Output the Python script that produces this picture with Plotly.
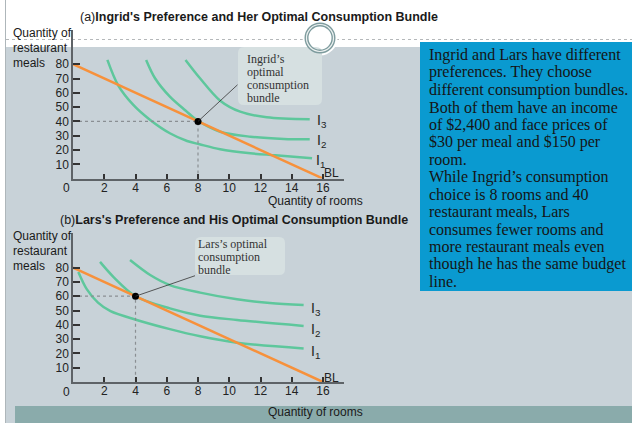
import plotly.graph_objects as go

W, H = 632, 423

# ---------------- data ----------------
budget_rooms = [0, 16]
budget_meals = [80, 0]
x_tick_vals = [2, 4, 6, 8, 10, 12, 14, 16]
y_tick_vals = [10, 20, 30, 40, 50, 60, 70, 80]

# Ingrid (panel a) indifference curves
a_I1_x = [2.2, 2.9, 3.86, 4.94, 6.2, 7.3, 8.1, 9.42, 11.35, 12.95, 15.3]
a_I1_y = [83, 65, 51.5, 41, 31.7, 26.3, 24, 20.5, 17.7, 16.3, 14.2]
a_I2_x = [4.68, 5.26, 6.2, 7.2, 7.95, 9.42, 11.35, 13.5, 15.15]
a_I2_y = [83, 70, 57.3, 47.6, 40.8, 32.8, 29.3, 27.7, 27.5]
a_I3_x = [7.2, 8.14, 9.42, 10.7, 12.4, 15.15]
a_I3_y = [83, 70, 54.5, 46.8, 42.9, 41.5]
ingrid_opt_rooms, ingrid_opt_meals = 8, 40

# Lars (panel b) indifference curves
b_I1_x = [0.34, 0.88, 1.6, 2.4, 4.08, 6.2, 8.14, 10.5, 14.76]
b_I1_y = [77, 65, 55.5, 49.5, 43.4, 37, 32, 27.5, 23.5]
b_I2_x = [1.73, 2.58, 4.0, 6.2, 8.14, 10.5, 14.76]
b_I2_y = [84, 73.6, 60, 51.5, 46.4, 43.4, 39.2]
b_I3_x = [3.65, 4.94, 6.2, 8.14, 10.5, 12.6, 14.76]
b_I3_y = [85.3, 74.8, 67.8, 62.5, 57.8, 55.2, 53.8]
lars_opt_rooms, lars_opt_meals = 4, 60

curve_labels = ["I<sub>1</sub>", "I<sub>2</sub>", "I<sub>3</sub>"]

side_text = [
    "Ingrid and Lars have different",
    "preferences. They choose",
    "different consumption bundles.",
    "Both of them have an income",
    "of $2,400 and face prices of",
    "$30 per meal and $150 per",
    "room.",
    "While Ingrid\u2019s consumption",
    "choice is 8 rooms and 40",
    "restaurant meals, Lars",
    "consumes fewer rooms and",
    "more restaurant meals even",
    "though he has the same budget",
    "line.",
]

# ---------------- style ----------------
SANS = "Liberation Sans, Arial, sans-serif"
SERIF = "Liberation Serif, Times New Roman, serif"
GREEN = "#5EC79C"
ORANGE = "#F7913B"
PANEL = "#C8D2D8"
BOXFILL = "#D6E0E1"
BAND = "#8AABAB"
BLUE = "#0A9AD0"


def px(x):
    return x / W


def py(y):
    return 1 - y / H


def rounded_rect(x0, y0, x1, y1, r):
    rx, ry = r / W, r / H
    X0, X1 = px(x0), px(x1)
    Y0, Y1 = py(y0), py(y1)  # Y0 top, Y1 bottom
    return (f"M {X0+rx},{Y0} L {X1-rx},{Y0} Q {X1},{Y0} {X1},{Y0-ry} "
            f"L {X1},{Y1+ry} Q {X1},{Y1} {X1-rx},{Y1} L {X0+rx},{Y1} "
            f"Q {X0},{Y1} {X0},{Y1+ry} L {X0},{Y0-ry} Q {X0},{Y0} {X0+rx},{Y0} Z")


def circle(cx, cy, r, **kw):
    return dict(type="circle", xref="paper", yref="paper",
                x0=px(cx - r), x1=px(cx + r), y0=py(cy + r), y1=py(cy - r),
                layer="below", **kw)


fig = go.Figure()


def add_panel(xa, ya, curves, opt_x, opt_y):
    for cx, cy in curves:
        fig.add_trace(go.Scatter(x=cx, y=cy, mode="lines", line=dict(color=GREEN, width=2.5, shape="spline", smoothing=0.9),
                                 xaxis=xa, yaxis=ya, hoverinfo="skip"))
    fig.add_trace(go.Scatter(x=budget_rooms, y=budget_meals, mode="lines", line=dict(color=ORANGE, width=2.5),
                             xaxis=xa, yaxis=ya, hoverinfo="skip"))
    fig.add_trace(go.Scatter(x=[0, opt_x, opt_x], y=[opt_y, opt_y, 0], mode="lines",
                             line=dict(color="#8A8F93", width=1.2, dash="dot"), xaxis=xa, yaxis=ya, hoverinfo="skip"))
    fig.add_trace(go.Scatter(x=[opt_x], y=[opt_y], mode="markers", marker=dict(color="black", size=7),
                             xaxis=xa, yaxis=ya, hoverinfo="skip"))


add_panel("x", "y", [(a_I1_x, a_I1_y), (a_I2_x, a_I2_y), (a_I3_x, a_I3_y)], ingrid_opt_rooms, ingrid_opt_meals)
add_panel("x2", "y2", [(b_I1_x, b_I1_y), (b_I2_x, b_I2_y), (b_I3_x, b_I3_y)], lars_opt_rooms, lars_opt_meals)

X_RANGE = [0, 17.35]
Y_RANGE = [0, 104]
xdom = [px(73), px(344.1)]

axis_common = dict(showgrid=False, zeroline=False, showline=True, linecolor="#5E6367", linewidth=1.5,
                   ticks="inside", tickcolor="#333", tickwidth=1.5,
                   tickfont=dict(family=SANS, size=12, color="#222"), fixedrange=True)

fig.update_layout(
    xaxis=dict(domain=xdom, range=X_RANGE, anchor="y", tickvals=x_tick_vals, ticklen=5,
               ticklabelstandoff=-3, **axis_common),
    yaxis=dict(domain=[py(178.6), py(29.9)], range=Y_RANGE, anchor="x", tickvals=y_tick_vals, ticklen=7, **axis_common),
    xaxis2=dict(domain=xdom, range=X_RANGE, anchor="y2", tickvals=x_tick_vals, ticklen=5,
                ticklabelstandoff=-3, **axis_common),
    yaxis2=dict(domain=[py(382), py(233.3)], range=Y_RANGE, anchor="x2", tickvals=y_tick_vals, ticklen=7, **axis_common),
)

shapes = [
    dict(type="rect", xref="paper", yref="paper", x0=px(6), x1=1, y0=0, y1=py(47),
         fillcolor=PANEL, line=dict(width=0), layer="below"),
    dict(type="line", xref="paper", yref="paper", x0=px(5.5), x1=px(5.5), y0=0, y1=1,
         line=dict(color="#AEB6BA", width=1), layer="below"),
    dict(type="line", xref="paper", yref="paper", x0=px(6), x1=1, y0=py(39.5), y1=py(39.5),
         line=dict(color="#B5B8BA", width=1, dash="dot"), layer="below"),
    circle(320, 38, 17.5, fillcolor="white", line=dict(width=0)),
    dict(type="rect", xref="paper", yref="paper", x0=px(15), x1=1, y0=0, y1=py(406),
         fillcolor=BAND, line=dict(width=0), layer="below"),
    dict(type="path", xref="paper", yref="paper", path=rounded_rect(238, 47, 322, 105, 6),
         fillcolor=BOXFILL, line=dict(width=0), layer="below"),
    dict(type="path", xref="paper", yref="paper", path=rounded_rect(195, 237, 285, 275, 6),
         fillcolor=BOXFILL, line=dict(width=0), layer="below"),
    dict(type="rect", xref="paper", yref="paper", x0=px(420), x1=1, y0=py(291), y1=py(42),
         fillcolor=BLUE, line=dict(width=0), layer="below"),
    circle(320, 38, 13.5, line=dict(color="#7E9C9E", width=4)),
    circle(320, 38, 13.5, line=dict(color="#EEF2F2", width=1.2)),
]
fig.update_layout(shapes=shapes)

ann = []


def text(x, y, s, size=12, family=SANS, color="#1A1A1A", xanchor="left", **kw):
    ann.append(dict(xref="paper", yref="paper", x=px(x), y=py(y), text=s, showarrow=False,
                    xanchor=xanchor, yanchor="middle", font=dict(family=family, size=size, color=color), **kw))


# titles
text(78, 17, "(a)<b>Ingrid's Preference and Her Optimal Consumption Bundle</b>", size=12.5)
text(58, 220, "(b)<b>Lars's Preference and His Optimal Consumption Bundle</b>", size=12.5)

# y-axis titles
for base in (33, 235.5):
    text(11, base, "Quantity of")
    text(11, base + 15, "restaurant")
    text(11, base + 30.5, "meals")

# x-axis titles
text(315, 201.5, "Quantity of rooms", xanchor="center")
text(315, 412, "Quantity of rooms", xanchor="center")

# origin labels
for xa, ya in (("x", "y"), ("x2", "y2")):
    ann.append(dict(xref=xa, yref=ya, x=0, y=0, text="0", showarrow=False, xanchor="center", yanchor="middle",
                    xshift=-7, yshift=-9.5, font=dict(family=SANS, size=12, color="#222")))


# curve labels
def curve_label(xa, ya, cx, cy, label, xs, ys):
    ann.append(dict(xref=xa, yref=ya, x=cx[-1], y=cy[-1], text=label, showarrow=False, xanchor="left",
                    yanchor="middle", xshift=xs, yshift=ys, font=dict(family=SANS, size=14, color="#222")))


curve_label("x", "y", a_I1_x, a_I1_y, curve_labels[0], 2, -3)
curve_label("x", "y", a_I2_x, a_I2_y, curve_labels[1], 5, -2)
curve_label("x", "y", a_I3_x, a_I3_y, curve_labels[2], 5, -2)
curve_label("x2", "y2", b_I1_x, b_I1_y, curve_labels[0], 5, -4)
curve_label("x2", "y2", b_I2_x, b_I2_y, curve_labels[1], 5, -4.5)
curve_label("x2", "y2", b_I3_x, b_I3_y, curve_labels[2], 5, -4)

for xa, ya, ys in (("x", "y", 6), ("x2", "y2", 4.5)):
    ann.append(dict(xref=xa, yref=ya, x=budget_rooms[-1], y=budget_meals[-1], text="BL", showarrow=False,
                    xanchor="center", yanchor="middle", xshift=8.5, yshift=ys,
                    font=dict(family=SANS, size=12, color="#222")))

# connector lines from optimal bundles to their notes
ann.append(dict(xref="x", yref="y", x=ingrid_opt_rooms, y=ingrid_opt_meals, text="", showarrow=True,
                arrowhead=0, arrowwidth=0.8, arrowcolor="#333", ax=41, ay=-38, standoff=0))
ann.append(dict(xref="x2", yref="y2", x=lars_opt_rooms, y=lars_opt_meals, text="", showarrow=True,
                arrowhead=0, arrowwidth=0.8, arrowcolor="#333", ax=61, ay=-21, standoff=0))

# note texts
for i, s in enumerate(["Ingrid\u2019s", "optimal", "consumption", "bundle"]):
    text(245, 59.3 + i * 13, s, size=12, family=SERIF, color="#333")
for i, s in enumerate(["Lars\u2019s optimal", "consumption", "bundle"]):
    text(196, 244 + i * 13, s, size=12, family=SERIF, color="#333")

# side text
for i, s in enumerate(side_text):
    text(427, 55 + i * 17.4, s, size=16, family=SERIF, color="#151515")

fig.update_layout(
    annotations=ann,
    width=W, height=H, autosize=False,
    margin=dict(l=0, r=0, t=0, b=0),
    paper_bgcolor="white", plot_bgcolor="rgba(0,0,0,0)",
    showlegend=False,
)

fig.write_html("out.html", config={"displayModeBar": False},
               post_script="document.body.style.margin='0px';")
